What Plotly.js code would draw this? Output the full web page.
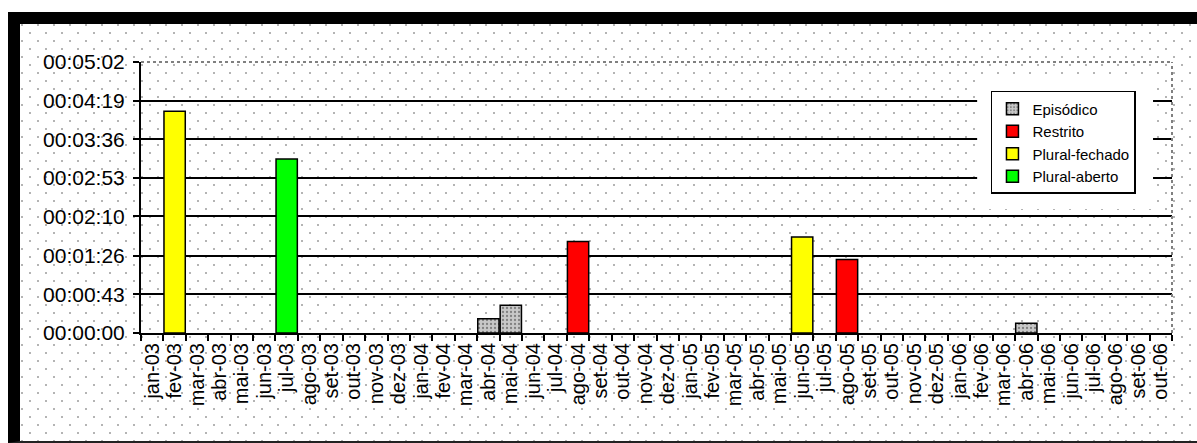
<!DOCTYPE html>
<html>
<head>
<meta charset="utf-8">
<script src="https://cdn.plot.ly/plotly-3.0.1.min.js"></script>
<style>
  html, body { margin:0; padding:0; width:1197px; height:443px; background:#fff; overflow:hidden; }
  #frame {
    position:absolute; left:8px; top:12px; width:1189px; height:417px;
    border-left:12px solid #000; border-top:12px solid #000; border-bottom:2px solid #222;
    box-sizing:content-box;
    background-color:#fff;
    background-image:
      radial-gradient(circle, #b4b4b4 0.8px, rgba(255,255,255,0) 1.3px),
      radial-gradient(circle, #b4b4b4 0.8px, rgba(255,255,255,0) 1.3px);
    background-size:16px 16px, 16px 16px;
    background-position:2px 1px, 10px 9px;
  }
  #chart { position:absolute; left:0; top:0; width:1197px; height:443px; }
</style>
</head>
<body>
<div id="frame"></div>
<div id="chart"></div>
<script>
// Categories (months)
const months = ['jan-03','fev-03','mar-03','abr-03','mai-03','jun-03','jul-03','ago-03','set-03','out-03','nov-03','dez-03',
                'jan-04','fev-04','mar-04','abr-04','mai-04','jun-04','jul-04','ago-04','set-04','out-04','nov-04','dez-04',
                'jan-05','fev-05','mar-05','abr-05','mai-05','jun-05','jul-05','ago-05','set-05','out-05','nov-05','dez-05',
                'jan-06','fev-06','mar-06','abr-06','mai-06','jun-06','jul-06','ago-06','set-06','out-06'];

// Series (durations in seconds)
const episodicoMonths = ['abr-04','mai-04','abr-06'];
const episodicoSecs   = [16, 31, 11];
const restritoMonths  = ['ago-04','ago-05'];
const restritoSecs    = [102, 82];
const pluralFechadoMonths = ['fev-03','jun-05'];
const pluralFechadoSecs   = [247, 107];
const pluralAbertoMonths  = ['jul-03'];
const pluralAbertoSecs    = [194];

// Y axis ticks
const tickSeconds = [0, 43, 86, 130, 173, 216, 259, 302];
const tickLabels  = ['00:00:00','00:00:43','00:01:26','00:02:10','00:02:53','00:03:36','00:04:19','00:05:02'];

const outline = {color:'#000', width:1.5};
const traces = [
  {type:'bar', name:'Episódico', x:episodicoMonths, y:episodicoSecs,
   marker:{color:'#c0c0c0', line:outline, pattern:{shape:'.', bgcolor:'#c8c8c8', fgcolor:'#808080', size:4, solidity:0.25}}},
  {type:'bar', name:'Restrito', x:restritoMonths, y:restritoSecs, marker:{color:'#ff0000', line:outline}},
  {type:'bar', name:'Plural-fechado', x:pluralFechadoMonths, y:pluralFechadoSecs, marker:{color:'#ffff00', line:outline}},
  {type:'bar', name:'Plural-aberto', x:pluralAbertoMonths, y:pluralAbertoSecs, marker:{color:'#00ff00', line:outline}},
  // helper on overlaid axis to carry the gridlines
  {type:'scatter', x:[], y:[], yaxis:'y2', showlegend:false, hoverinfo:'skip'}
];

const font = {family:'"Liberation Sans", Arial, sans-serif', color:'#000'};

const layout = {
  width:1197, height:443,
  margin:{l:141, r:25, t:62, b:110, pad:0},
  paper_bgcolor:'rgba(0,0,0,0)', plot_bgcolor:'rgba(0,0,0,0)',
  font:font,
  barmode:'overlay', bargap:0.05,
  showlegend:true,
  legend:{x:0.8244, y:0.893, xanchor:'left', yanchor:'top',
          bgcolor:'rgba(0,0,0,0)', bordercolor:'#000', borderwidth:1.5,
          font:{family:font.family, size:15, color:'#000'},
          itemwidth:30, traceorder:'normal', tracegroupgap:4},
  xaxis:{type:'category', categoryorder:'array', categoryarray:months, range:[-0.5, months.length-0.5],
         tickmode:'array', tickvals:months, ticktext:months,
         tickangle:-90, tickson:'boundaries', ticks:'outside', ticklen:6, tickwidth:2, tickcolor:'#000',
         showline:true, linecolor:'#000', linewidth:2, showgrid:false, zeroline:false,
         tickfont:{family:font.family, size:20, color:'#000'}, automargin:false},
  yaxis:{range:[0,302], tickmode:'array', tickvals:tickSeconds, ticktext:tickLabels,
         ticks:'outside', ticklen:6, tickwidth:2, tickcolor:'#000', ticklabelstandoff:4,
         showline:true, linecolor:'#000', linewidth:2, showgrid:false, zeroline:false,
         tickfont:{family:font.family, size:21, color:'#000'}, automargin:false},
  yaxis2:{overlaying:'y', range:[0,302], tickmode:'array', tickvals:tickSeconds.slice(0,-1),
          showticklabels:false, ticks:'', showgrid:true, gridcolor:'#000', gridwidth:2, zeroline:false, showline:false},
  shapes:[
    {type:'rect', xref:'paper', yref:'paper', x0:0.811, x1:0.9816, y0:0.4576, y1:0.934,
     fillcolor:'#fff', line:{width:0}, layer:'above'},
    {type:'line', xref:'paper', yref:'paper', x0:0, x1:1, y0:1, y1:1, line:{color:'#808080', width:2, dash:'dot'}},
    {type:'line', xref:'paper', yref:'paper', x0:1, x1:1, y0:0, y1:1, line:{color:'#808080', width:2, dash:'dot'}}
  ]
};

Plotly.newPlot('chart', traces, layout, {displayModeBar:false, staticPlot:true});
</script>
</body>
</html>
